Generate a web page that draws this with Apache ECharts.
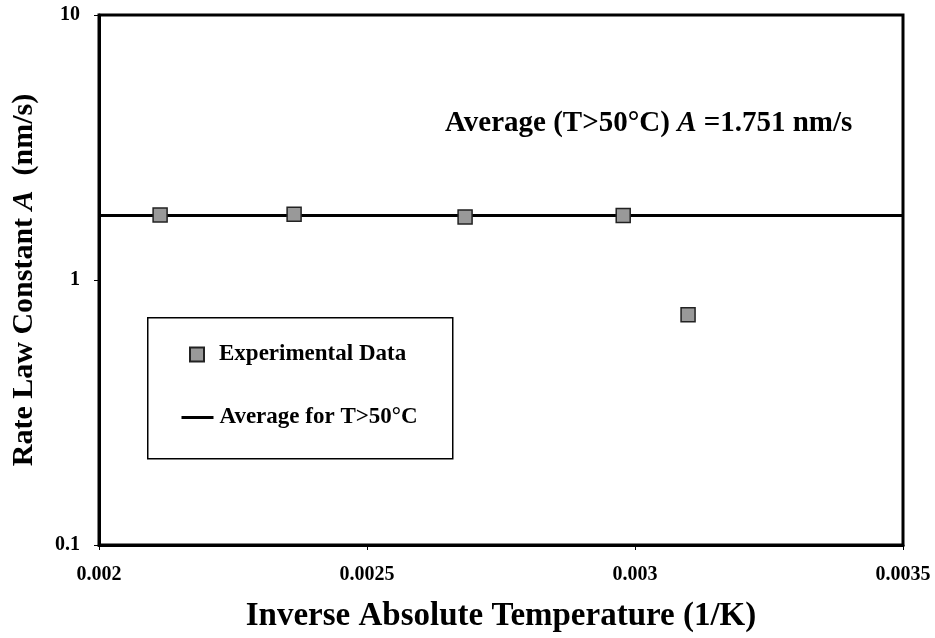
<!DOCTYPE html>
<html>
<head>
<meta charset="utf-8">
<script src="https://cdn.jsdelivr.net/npm/echarts@6/dist/echarts.min.js"></script>
<style>html,body{margin:0;padding:0;background:#fff}#c{width:935px;height:638px}</style>
</head>
<body>
<div id="c"></div>
<script>
var invT = [0.002114, 0.002364, 0.002683, 0.002978, 0.003099];
var rateA = [1.76, 1.77, 1.73, 1.75, 0.74];
var avgX = [0.002, 0.0035];
var avgValue = 1.751;
var xTicks = ['0.002', '0.0025', '0.003', '0.0035'];
var yTicks = ['0.1', '1', '10'];

var FONT = '"Liberation Serif", "Times New Roman", serif';
var chart = echarts.init(document.getElementById('c'));
var expData = invT.map(function (x, i) { return [x, rateA[i]]; });
var avgData = avgX.map(function (x) { return [x, avgValue]; });

chart.setOption({
  animation: false,
  backgroundColor: '#fff',
  grid: { left: 99, right: 32, top: 15, bottom: 91, show: true, borderColor: '#000', borderWidth: 3, backgroundColor: 'transparent' },
  xAxis: {
    type: 'value', min: 0.002, max: 0.0035, interval: 0.0005,
    name: 'Inverse Absolute Temperature (1/K)', nameLocation: 'middle', nameGap: 55,
    nameTextStyle: { fontFamily: FONT, fontWeight: 'bold', fontSize: 33, color: '#000' },
    axisLine: { lineStyle: { color: '#000', width: 3 } },
    axisTick: { show: true, inside: false, length: 5, lineStyle: { color: '#000', width: 1 } },
    splitLine: { show: false },
    axisLabel: { margin: 20, fontFamily: FONT, fontWeight: 'bold', fontSize: 20, color: '#000',
      formatter: function (v) { var i = Math.round((v - 0.002) / 0.0005); return xTicks[i] || ''; } }
  },
  yAxis: {
    type: 'log', logBase: 10, min: 0.1, max: 10,
    name: '{b|Rate Law Constant }{i|A}{b|  (nm/s)}', nameLocation: 'middle', nameGap: 60, nameRotate: 90,
    nameTextStyle: { fontFamily: FONT, fontWeight: 'bold', fontSize: 30, color: '#000',
      rich: { b: { fontFamily: FONT, fontWeight: 'bold', fontSize: 30, color: '#000' },
              i: { fontFamily: FONT, fontWeight: 'bold', fontStyle: 'italic', fontSize: 30, color: '#000' } } },
    axisLine: { show: true, lineStyle: { color: '#000', width: 3 } },
    axisTick: { show: true, inside: false, length: 5, lineStyle: { color: '#000', width: 1 } },
    minorTick: { show: false },
    splitLine: { show: false },
    axisLabel: { margin: 19, fontFamily: FONT, fontWeight: 'bold', fontSize: 20, color: '#000',
      formatter: function (v) { var i = Math.round(Math.log10(v)) + 1; return yTicks[i] || ''; } }
  },
  legend: [
    { data: ['Experimental Data'], left: 189, top: 343, padding: 0, itemWidth: 14, itemHeight: 14, selectedMode: false,
      textStyle: { fontFamily: FONT, fontWeight: 'bold', fontSize: 23, color: '#000', padding: [0, 0, 0, 10] } },
    { data: ['Average for T>50°C'], left: 180, top: 406, padding: 0, itemWidth: 32, itemHeight: 14, selectedMode: false,
      itemStyle: { color: 'transparent', borderColor: 'transparent', borderWidth: 0, opacity: 0 },
      lineStyle: { width: 3, color: '#000' },
      textStyle: { fontFamily: FONT, fontWeight: 'bold', fontSize: 23, color: '#000', padding: [0, 0, 0, 1] } }
  ],
  graphic: [
    { type: 'rect', left: 147, top: 317, z: 10, shape: { width: 305, height: 141 },
      style: { fill: 'transparent', stroke: '#000', lineWidth: 1.5 } },
    { type: 'text', x: 445, y: 124, z: 10,
      style: { text: '{b|Average (T>50°C) }{i|A}{b| =1.751 nm/s}', verticalAlign: 'middle',
        rich: { b: { fontFamily: FONT, fontWeight: 'bold', fontSize: 29, fill: '#000' },
                i: { fontFamily: FONT, fontWeight: 'bold', fontStyle: 'italic', fontSize: 29, fill: '#000' } } } }
  ],
  series: [
    { name: 'Average for T>50°C', type: 'line', data: avgData, symbol: 'none', z: 2,
      lineStyle: { color: '#000', width: 3 }, itemStyle: { color: '#000' } },
    { name: 'Experimental Data', type: 'scatter', data: expData, symbol: 'rect', symbolSize: 14, z: 3,
      itemStyle: { color: '#999999', borderColor: '#222', borderWidth: 1.5, opacity: 1 } }
  ]
});
</script>
</body>
</html>
